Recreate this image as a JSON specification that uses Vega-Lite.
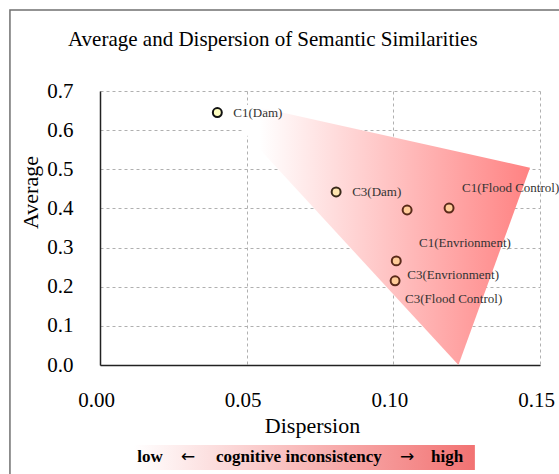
{
  "$schema": "https://vega.github.io/schema/vega-lite/v6.json",
  "width": 440,
  "height": 274,
  "autosize": {"type": "none"},
  "padding": {"left": 100, "top": 91, "right": 19, "bottom": 109},
  "background": "white",
  "title": {
    "text": "Average and Dispersion of Semantic Similarities",
    "anchor": "start",
    "frame": "group",
    "dx": -32,
    "dy": 58,
    "offset": 0,
    "baseline": "alphabetic",
    "font": "Liberation Serif",
    "fontSize": 21,
    "fontWeight": "normal",
    "color": "black"
  },
  "config": {
    "view": {"stroke": null},
    "axis": {
      "labelFont": "Liberation Serif",
      "titleFont": "Liberation Serif",
      "labelColor": "black",
      "titleColor": "black",
      "titleFontWeight": "normal",
      "domainColor": "#222",
      "domainWidth": 1.5,
      "ticks": false,
      "labelOverlap": false,
      "labelFlush": false,
      "gridColor": "#b0b0b0",
      "gridDash": [3, 3],
      "gridWidth": 1
    }
  },
  "datasets": {
    "points": [
      {"name": "C1(Dam)", "dispersion": 0.040, "average": 0.645},
      {"name": "C3(Dam)", "dispersion": 0.0805, "average": 0.442},
      {"name": "C1(Envrionment)", "dispersion": 0.1047, "average": 0.396},
      {"name": "C1(Flood Control)", "dispersion": 0.119, "average": 0.401},
      {"name": "C3(Envrionment)", "dispersion": 0.101, "average": 0.266},
      {"name": "C3(Flood Control)", "dispersion": 0.1006, "average": 0.215}
    ],
    "region": [
      {"dispersion": 0.038, "top": 0.685, "bottom": 0.685},
      {"dispersion": 0.1222, "top": 0.5447, "bottom": 0.0},
      {"dispersion": 0.1466, "top": 0.504, "bottom": 0.504}
    ],
    "frame": [
      {"x1": -0.0307, "x2": 0.25, "y1": -1.0, "y2": 0.907}
    ],
    "bar": [
      {"x1": 0.0115, "x2": 0.1278, "y1": -0.2044, "y2": -0.2682}
    ],
    "barText": [
      {"t": "low", "x": 0.01705, "y": -0.236},
      {"t": "cognitive inconsistency", "x": 0.0678, "y": -0.236},
      {"t": "high", "x": 0.1183, "y": -0.236}
    ],
    "barArrows": [
      {"t": "←", "x": 0.030, "y": -0.236},
      {"t": "→", "x": 0.1047, "y": -0.236}
    ]
  },
  "layer": [
    {
      "data": {"name": "frame"},
      "mark": {"type": "rect", "fill": null, "stroke": "#707070", "strokeWidth": 1.5, "clip": false},
      "encoding": {
        "x": {
          "field": "x1", "type": "quantitative",
          "scale": {"domain": [0, 0.15], "nice": false, "zero": false},
          "axis": {
            "values": [0, 0.05, 0.1, 0.15],
            "tickCount": 20,
            "format": ".2f",
            "labelFontSize": 21,
            "labelPadding": 24,
            "labelOffset": -4,
            "title": "Dispersion",
            "titleFontSize": 22,
            "titleX": 212,
            "titleY": 60,
            "titleBaseline": "middle",
            "grid": true
          }
        },
        "x2": {"field": "x2"},
        "y": {
          "field": "y1", "type": "quantitative",
          "scale": {"domain": [0, 0.7], "nice": false, "zero": false},
          "axis": {
            "values": [0, 0.1, 0.2, 0.3, 0.4, 0.5, 0.6, 0.7],
            "tickCount": 20,
            "format": ".1f",
            "labelFontSize": 21,
            "labelPadding": 27,
            "title": "Average",
            "titleFontSize": 22,
            "titleX": -70,
            "titleY": 101,
            "titleBaseline": "middle",
            "grid": true
          }
        },
        "y2": {"field": "y2"}
      }
    },
    {
      "data": {"name": "region"},
      "mark": {
        "type": "area",
        "orient": "vertical",
        "interpolate": "linear",
        "fill": {
          "gradient": "linear",
          "x1": 0, "y1": 0, "x2": 1, "y2": 0,
          "stops": [
            {"offset": 0, "color": "#ffffff"},
            {"offset": 0.15, "color": "#ffffff"},
            {"offset": 1, "color": "#ff8282"}
          ]
        }
      },
      "encoding": {
        "x": {"field": "dispersion", "type": "quantitative"},
        "y": {"field": "top", "type": "quantitative"},
        "y2": {"field": "bottom"}
      }
    },
    {
      "data": {"name": "points"},
      "mark": {"type": "point", "shape": "circle", "filled": false, "size": 80, "strokeWidth": 2, "opacity": 1},
      "encoding": {
        "x": {"field": "dispersion", "type": "quantitative"},
        "y": {"field": "average", "type": "quantitative"},
        "fill": {
          "field": "name", "type": "nominal", "legend": null,
          "scale": {
            "domain": ["C1(Dam)", "C3(Dam)", "C1(Envrionment)", "C1(Flood Control)", "C3(Envrionment)", "C3(Flood Control)"],
            "range": ["#ffffc0", "#ffe6b0", "#ffcc99", "#ffcc99", "#ffcc99", "#ffcc99"]
          }
        },
        "stroke": {
          "field": "name", "type": "nominal", "legend": null,
          "scale": {
            "domain": ["C1(Dam)", "C3(Dam)", "C1(Envrionment)", "C1(Flood Control)", "C3(Envrionment)", "C3(Flood Control)"],
            "range": ["#111111", "#3a2a1a", "#5a2a1a", "#5a2a1a", "#5a2a1a", "#5a2a1a"]
          }
        }
      }
    },
    {
      "data": {"name": "points"},
      "transform": [{"filter": "datum.name === 'C1(Dam)' || datum.name === 'C3(Dam)'"}],
      "mark": {"type": "text", "align": "left", "baseline": "middle", "dx": 16, "dy": 0, "font": "Liberation Serif", "fontSize": 13, "color": "#333"},
      "encoding": {
        "x": {"field": "dispersion", "type": "quantitative"},
        "y": {"field": "average", "type": "quantitative"},
        "text": {"field": "name"}
      }
    },
    {
      "data": {"name": "points"},
      "transform": [{"filter": "datum.name === 'C1(Flood Control)'"}],
      "mark": {"type": "text", "align": "left", "baseline": "middle", "dx": 13, "dy": -20, "font": "Liberation Serif", "fontSize": 13, "color": "#333"},
      "encoding": {
        "x": {"field": "dispersion", "type": "quantitative"},
        "y": {"field": "average", "type": "quantitative"},
        "text": {"field": "name"}
      }
    },
    {
      "data": {"name": "points"},
      "transform": [{"filter": "datum.name === 'C1(Envrionment)'"}],
      "mark": {"type": "text", "align": "left", "baseline": "middle", "dx": 12, "dy": 33, "font": "Liberation Serif", "fontSize": 13, "color": "#333"},
      "encoding": {
        "x": {"field": "dispersion", "type": "quantitative"},
        "y": {"field": "average", "type": "quantitative"},
        "text": {"field": "name"}
      }
    },
    {
      "data": {"name": "points"},
      "transform": [{"filter": "datum.name === 'C3(Envrionment)'"}],
      "mark": {"type": "text", "align": "left", "baseline": "middle", "dx": 11, "dy": 14, "font": "Liberation Serif", "fontSize": 13, "color": "#333"},
      "encoding": {
        "x": {"field": "dispersion", "type": "quantitative"},
        "y": {"field": "average", "type": "quantitative"},
        "text": {"field": "name"}
      }
    },
    {
      "data": {"name": "points"},
      "transform": [{"filter": "datum.name === 'C3(Flood Control)'"}],
      "mark": {"type": "text", "align": "left", "baseline": "middle", "dx": 10, "dy": 18, "font": "Liberation Serif", "fontSize": 13, "color": "#333"},
      "encoding": {
        "x": {"field": "dispersion", "type": "quantitative"},
        "y": {"field": "average", "type": "quantitative"},
        "text": {"field": "name"}
      }
    },
    {
      "data": {"name": "bar"},
      "mark": {
        "type": "rect",
        "clip": false,
        "fill": {
          "gradient": "linear",
          "x1": 0, "y1": 0, "x2": 1, "y2": 0,
          "stops": [
            {"offset": 0, "color": "#ffffff"},
            {"offset": 1, "color": "#f27272"}
          ]
        }
      },
      "encoding": {
        "x": {"field": "x1", "type": "quantitative"},
        "x2": {"field": "x2"},
        "y": {"field": "y1", "type": "quantitative"},
        "y2": {"field": "y2"}
      }
    },
    {
      "data": {"name": "barText"},
      "mark": {"type": "text", "align": "center", "baseline": "middle", "font": "Liberation Serif", "fontSize": 17, "fontWeight": "bold", "color": "black", "clip": false},
      "encoding": {
        "x": {"field": "x", "type": "quantitative"},
        "y": {"field": "y", "type": "quantitative"},
        "text": {"field": "t"}
      }
    },
    {
      "data": {"name": "barArrows"},
      "mark": {"type": "text", "align": "center", "baseline": "middle", "font": "DejaVu Sans", "fontSize": 17, "fontWeight": "normal", "color": "black", "clip": false},
      "encoding": {
        "x": {"field": "x", "type": "quantitative"},
        "y": {"field": "y", "type": "quantitative"},
        "text": {"field": "t"}
      }
    }
  ]
}
